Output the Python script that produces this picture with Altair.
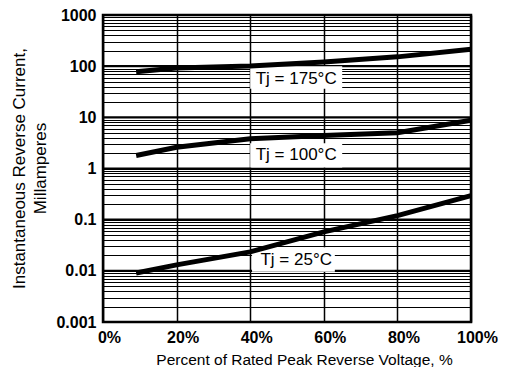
import altair as alt
import pandas as pd

# Curve readings (percent of rated peak reverse voltage, current in mA)
x175 = [9, 20, 40, 60, 80, 100]
y175 = [78, 92, 101, 120, 152, 215]
x100 = [9, 20, 40, 60, 80, 100]
y100 = [1.8, 2.6, 3.8, 4.4, 5.0, 8.8]
x25 = [9, 20, 40, 60, 80, 100]
y25 = [0.0091, 0.0131, 0.0235, 0.0576, 0.12, 0.294]

series = ["Tj = 175°C", "Tj = 100°C", "Tj = 25°C"]
label_x = [52.5, 52.5, 52.5]
label_y = [56, 1.8, 0.0164]
box_x1 = [40, 40, 40.5]
box_x2 = [65, 65, 63]
box_y1 = [100, 3.1, 0.029]
box_y2 = [36, 1.05, 0.0096]

x_ticks = [0, 20, 40, 60, 80, 100]
decades = [0.001, 0.01, 0.1, 1, 10, 100, 1000]

rows = []
for name, xs, ys in zip(series, [x175, x100, x25], [y175, y100, y25]):
    for a, b in zip(xs, ys):
        rows.append({"series": name, "x": a, "y": b})
curves = pd.DataFrame(rows)
labels = pd.DataFrame({"series": series, "x": label_x, "y": label_y,
                       "x1": box_x1, "x2": box_x2, "y1": box_y1, "y2": box_y2})
dec_df = pd.DataFrame({"y": decades})

y_vals = []
for d in decades[:-1]:
    for k in range(1, 10):
        y_vals.append(round(d * k, 6))
y_vals.append(1000)

FONT = "Liberation Sans"

xscale = alt.Scale(domain=[0, 100], nice=False, zero=False)
yscale = alt.Scale(type="log", domain=[0.001, 1000], nice=False)

xaxis = alt.Axis(values=x_ticks, labelExpr="datum.value + '%'", grid=True,
                 gridColor="black", gridWidth=1.5, gridOpacity=1, ticks=False,
                 domain=False, labelFont=FONT, labelFontSize=16, labelFontWeight="bold",
                 labelColor="black", labelPadding=7, labelOffset=6, labelFlush=False,
                 title="Percent of Rated Peak Reverse Voltage, %",
                 titleFont=FONT, titleFontSize=15.5, titleFontWeight="normal",
                 titleColor="black", titleX=201, titleY=42, titleBaseline="alphabetic")
yaxis = alt.Axis(values=y_vals, format="~g",
                 labelExpr="abs(log(datum.value)/LN10 - round(log(datum.value)/LN10)) < 1e-6 ? format(datum.value, '~g') : ''",
                 grid=True, gridColor="black", gridWidth=1, gridOpacity=1, ticks=False,
                 domain=False, labelFont=FONT, labelFontSize=16, labelFontWeight="bold",
                 labelColor="black", labelPadding=7, labelOverlap=False, labelFlush=False,
                 title=["Instantaneous Reverse Current,", "\u00a0" * 10 + "Millamperes"],
                 titleFont=FONT, titleFontSize=17, titleFontWeight="normal",
                 titleColor="black", titleLineHeight=21, titleBaseline="middle",
                 titleX=-84, titleY=153)

base_x = alt.X("x:Q", scale=xscale, axis=xaxis)
base_y = alt.Y("y:Q", scale=yscale, axis=yaxis)

dec_rules = alt.Chart(dec_df).mark_rule(color="black", strokeWidth=2.2).encode(
    y=alt.Y("y:Q", scale=yscale, axis=yaxis)
)

lines = alt.Chart(curves).mark_line(color="black", strokeWidth=5, strokeCap="butt").encode(
    x=base_x, y=base_y, detail="series:N"
)

boxes = alt.Chart(labels).mark_rect(fill="white").encode(
    x=alt.X("x1:Q", scale=xscale), x2="x2:Q",
    y=alt.Y("y1:Q", scale=yscale), y2="y2:Q"
)

texts = alt.Chart(labels).mark_text(font=FONT, fontSize=17, color="black").encode(
    x=alt.X("x:Q", scale=xscale), y=alt.Y("y:Q", scale=yscale), text="series:N"
)

chart = alt.layer(dec_rules, boxes, lines, texts).properties(
    width=368, height=307,
    autosize=alt.AutoSizeParams(type="none"),
    padding={"left": 95, "top": 7, "right": 27, "bottom": 45},
    background="white",
).configure_view(stroke="black", strokeWidth=2.5)

chart.save("out.html", embed_options={"renderer": "svg", "actions": False})
